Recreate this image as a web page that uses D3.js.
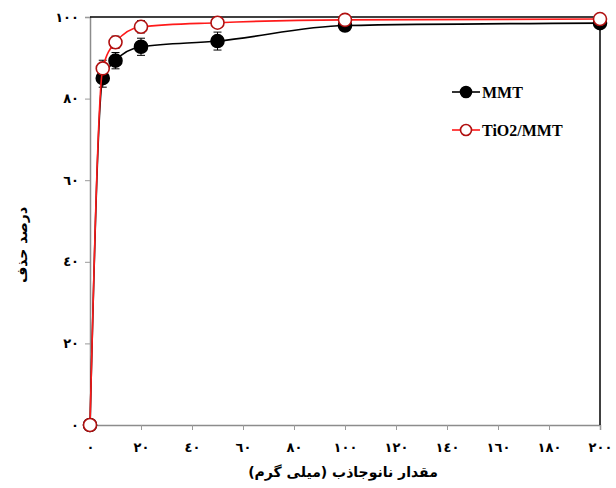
<!DOCTYPE html>
<html>
<head>
<meta charset="utf-8">
<script src="https://cdn.jsdelivr.net/npm/d3@7"></script>
<style>
  body { margin: 0; background: #fff; }
  svg { display: block; }
</style>
</head>
<body>
<div id="chart"></div>
<script>
// doses (mg) and removal (%)
const doses      = [0, 5, 10, 20, 50, 100, 200];
const mmtValues  = [0, 85.0, 89.3, 92.7, 94.1, 97.9, 98.5];
const mmtErr     = [0, 2.2, 2.0, 2.1, 2.2, 0.8, 0.6];
const tioValues  = [0, 87.4, 93.8, 97.6, 98.6, 99.3, 99.5];
const tioErr     = [0, 2.0, 1.5, 1.5, 0.5, 0.4, 0.4];
const xTicks     = [0, 20, 40, 60, 80, 100, 120, 140, 160, 180, 200];
const yTicks     = [0, 20, 40, 60, 80, 100];
const seriesNames = ["MMT", "TiO2/MMT"];

const width = 616, height = 488;
const m = { top: 17, right: 16, bottom: 63, left: 90 };
const innerW = width - m.left - m.right;
const innerH = height - m.top - m.bottom;

// Arabic-Indic digits for the tick labels
const arDigits = "٠١٢٣٤٥٦٧٨٩";
const toAr = n => String(n).replace(/\d/g, d => arDigits[+d]);

const svg = d3.select("#chart").append("svg")
    .attr("width", width).attr("height", height);
const plot = svg.append("g").attr("transform", `translate(${m.left},${m.top})`);

const x = d3.scaleLinear().domain([0, 200]).range([0, innerW]);
const y = d3.scaleLinear().domain([0, 100]).range([innerH, 0]);

const arabicFont = "'DejaVu Sans', 'Noto Sans', sans-serif";

// axes
const xAxis = plot.append("g").attr("transform", `translate(0,${innerH})`)
    .call(d3.axisBottom(x).tickValues(xTicks).tickSize(5).tickPadding(13).tickFormat(toAr));
const yAxis = plot.append("g")
    .call(d3.axisLeft(y).tickValues(yTicks).tickSize(5).tickPadding(6).tickFormat(toAr));
[xAxis, yAxis].forEach(a => {
    a.select(".domain").attr("stroke", "#8c8c8c").attr("stroke-width", 1.5);
    a.selectAll(".tick line").attr("stroke", "#9a9a9a");
    a.selectAll(".tick text")
        .attr("fill", "#000")
        .style("font-family", arabicFont)
        .style("font-weight", "bold")
        .style("font-size", "13px");
});

// top and right frame
plot.append("line").attr("x1", 0).attr("x2", innerW).attr("y1", 0).attr("y2", 0)
    .attr("stroke", "#000").attr("stroke-width", 1.5);
plot.append("line").attr("x1", innerW).attr("x2", innerW).attr("y1", 0).attr("y2", innerH)
    .attr("stroke", "#000").attr("stroke-width", 1.5);

const line = d3.line().curve(d3.curveMonotoneX)
    .x((d, i) => x(doses[i])).y(d => y(d));

function drawSeries(vals, errs, lineColor, markerFill, markerStroke) {
    const g = plot.append("g");
    // error bars
    doses.forEach((dose, i) => {
        if (!(errs[i] > 0)) return;
        const cx = x(dose), d = vals[i];
        g.append("line").attr("x1", cx).attr("x2", cx)
            .attr("y1", y(d - errs[i])).attr("y2", y(d + errs[i]))
            .attr("stroke", "#000").attr("stroke-width", 1);
        [d - errs[i], d + errs[i]].forEach(v => {
            g.append("line").attr("x1", cx - 4).attr("x2", cx + 4)
                .attr("y1", y(v)).attr("y2", y(v))
                .attr("stroke", "#000").attr("stroke-width", 1);
        });
    });
    g.append("path").datum(vals).attr("d", line)
        .attr("fill", "none").attr("stroke", lineColor).attr("stroke-width", 1.6);
    g.selectAll("circle").data(vals).join("circle")
        .attr("cx", (d, i) => x(doses[i])).attr("cy", d => y(d))
        .attr("r", 6.5)
        .attr("fill", markerFill).attr("stroke", markerStroke).attr("stroke-width", 1.6);
}

drawSeries(mmtValues, mmtErr, "#000", "#000", "#000");
drawSeries(tioValues, tioErr, "#ff1a1a", "#fff", "#b01010");

// legend
const legend = svg.append("g");
const legendItems = [
    { name: seriesNames[0], line: "#000", fill: "#000", stroke: "#000", y: 92 },
    { name: seriesNames[1], line: "#ff1a1a", fill: "#fff", stroke: "#b01010", y: 130 }
];
legendItems.forEach(it => {
    legend.append("line").attr("x1", 452).attr("x2", 480).attr("y1", it.y).attr("y2", it.y)
        .attr("stroke", it.line).attr("stroke-width", 1.6);
    legend.append("circle").attr("cx", 466).attr("cy", it.y).attr("r", 5.5)
        .attr("fill", it.fill).attr("stroke", it.stroke).attr("stroke-width", 1.6);
    legend.append("text").attr("x", 482).attr("y", it.y).attr("dy", "0.35em")
        .style("font-family", "'Liberation Serif', 'Times New Roman', serif")
        .style("font-weight", "bold").style("font-size", "16px")
        .text(it.name);
});

// axis titles
svg.append("text")
    .attr("x", m.left + innerW / 2 - 2).attr("y", 477)
    .attr("text-anchor", "middle")
    .style("font-family", arabicFont).style("font-weight", "bold").style("font-size", "14px")
    .text("مقدار نانوجاذب (میلی گرم)");
svg.append("text")
    .attr("transform", `translate(27,${m.top + innerH / 2 + 24}) rotate(-90)`)
    .attr("text-anchor", "middle")
    .style("font-family", arabicFont).style("font-weight", "bold").style("font-size", "14px")
    .text("درصد حذف");
</script>
</body>
</html>
